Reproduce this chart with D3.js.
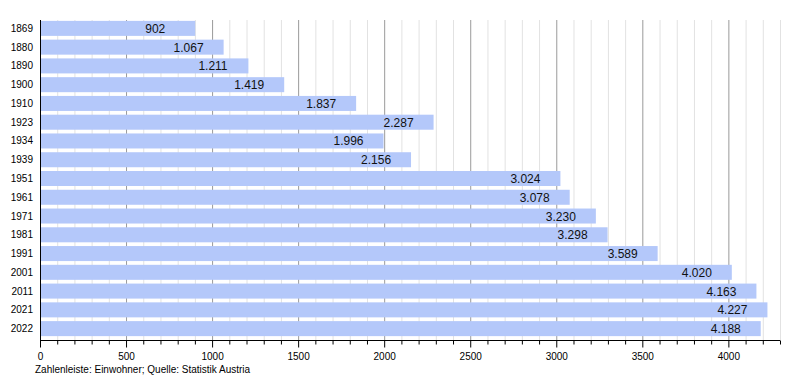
<!DOCTYPE html>
<html><head><meta charset="utf-8">
<script src="https://cdn.jsdelivr.net/npm/d3@7"></script>
<style>body{margin:0;background:#fff;font-family:"Liberation Sans",Arial,sans-serif;}</style>
</head><body><svg id="c" width="800" height="380"></svg>
<script>
const years = ["1869","1880","1890","1900","1910","1923","1934","1939","1951","1961","1971","1981","1991","2001","2011","2021","2022"];
const population = [902,1067,1211,1419,1837,2287,1996,2156,3024,3078,3230,3298,3589,4020,4163,4227,4188];
const majorTicks = [0,500,1000,1500,2000,2500,3000,3500,4000];
const footnote = "Zahlenleiste: Einwohner; Quelle: Statistik Austria";

const svg = d3.select("#c");
const x = d3.scaleLinear().domain([0,4300]).range([40,780]);
const y = d3.scaleBand().domain(years).range([19,338]).paddingInner(0.2).paddingOuter(0.1);
const plotTop = 20, plotBottom = 340;
const minorTicks = d3.range(0,4301,100).filter(v => v % 500 !== 0);
const fmt = v => d3.format(",")(v).replace(/,/g,".");

// gridlines
svg.append("g").selectAll("line").data(minorTicks).join("line")
  .attr("x1",d=>x(d)+0.5).attr("x2",d=>x(d)+0.5).attr("y1",plotTop).attr("y2",plotBottom)
  .attr("stroke","#e2e2e2").attr("stroke-width",1);
svg.append("g").selectAll("line").data(majorTicks.filter(d=>d>0)).join("line")
  .attr("x1",d=>x(d)+0.5).attr("x2",d=>x(d)+0.5).attr("y1",plotTop).attr("y2",plotBottom)
  .attr("stroke","#9a9a9a").attr("stroke-width",1);

// bars
svg.append("g").selectAll("rect").data(years).join("rect")
  .attr("x",x(0)+1).attr("y",(d)=>y(d))
  .attr("width",(d,i)=>x(population[i])-x(0)-1).attr("height",y.bandwidth())
  .attr("fill","#b4c8fa");

// value labels
svg.append("g").selectAll("text").data(years).join("text")
  .attr("x",(d,i)=>x(population[i])-50).attr("y",d=>y(d)+y.bandwidth()/2+4.5)
  .attr("font-size",12).attr("fill","#111")
  .text((d,i)=>fmt(population[i]));

// y axis labels
svg.append("g").selectAll("text").data(years).join("text")
  .attr("x",33).attr("y",d=>y(d)+y.bandwidth()/2+3.5)
  .attr("text-anchor","end").attr("font-size",10).attr("fill","#000")
  .text(d=>d);

// axes lines
svg.append("line").attr("x1",40.5).attr("x2",40.5).attr("y1",plotTop).attr("y2",plotBottom+0.5).attr("stroke","#000");
const xa = svg.append("g").attr("transform",`translate(0,${plotBottom+0.5})`);
xa.append("line").attr("x1",40).attr("x2",780).attr("y1",0).attr("y2",0).attr("stroke","#000");
xa.selectAll("line.mi").data(minorTicks).join("line").attr("class","mi")
  .attr("x1",d=>x(d)+0.5).attr("x2",d=>x(d)+0.5).attr("y1",0).attr("y2",4).attr("stroke","#000");
xa.selectAll("line.ma").data(majorTicks).join("line").attr("class","ma")
  .attr("x1",d=>x(d)+0.5).attr("x2",d=>x(d)+0.5).attr("y1",0).attr("y2",7).attr("stroke","#000");
xa.selectAll("text").data(majorTicks).join("text")
  .attr("x",d=>x(d)+0.5).attr("y",19).attr("text-anchor","middle").attr("font-size",10).text(d=>d);

svg.append("text").attr("x",35).attr("y",373).attr("font-size",10).attr("fill","#000").text(footnote);
</script></body></html>
